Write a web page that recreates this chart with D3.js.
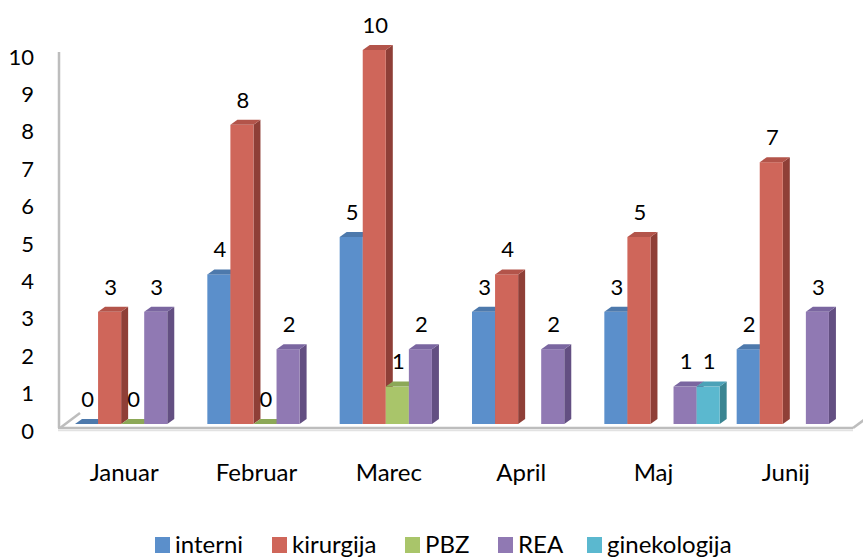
<html>
<head>
<script src="https://d3js.org/d3.v7.min.js"></script>
<style>
  body { margin: 0; background: #fff; }
  text { font-family: Lato, "Open Sans", sans-serif; fill: #000; }
</style>
</head>
<body>
<svg id="chart" width="863" height="558"></svg>
<script>
const months = ["Januar", "Februar", "Marec", "April", "Maj", "Junij"];
const series = ["interni", "kirurgija", "PBZ", "REA", "ginekologija"];
const interni = [0, 4, 5, 3, 3, 2];
const kirurgija = [3, 8, 10, 4, 5, 7];
const pbz = [0, 0, 1, null, null, null];
const rea = [3, 2, 2, 2, 1, 3];
const ginekologija = [null, null, null, null, 1, null];
const yTicks = [0, 1, 2, 3, 4, 5, 6, 7, 8, 9, 10];

const values = [interni, kirurgija, pbz, rea, ginekologija];
const front = ["#5B8FCB", "#CF665A", "#A9C56A", "#9079B3", "#5BB8CF"];
const side  = ["#3F6894", "#8F3F37", "#789240", "#634F82", "#3A8592"];
const top_  = ["#4D79AC", "#B3544A", "#8CA857", "#7A66A0", "#4CA2B8"];

const svg = d3.select("#chart");
const dx = 7, dy = -5;

const x0 = d3.scaleBand().domain(months).range([58, 852]);
const x1 = d3.scaleBand().domain(series).range([17, x0.bandwidth()]);
const y = d3.scaleLinear().domain([0, 10]).range([424, 50]);

// walls / floor
const wall = svg.append("g").attr("fill", "none").attr("stroke", "#BDBDBD").attr("stroke-width", 2.5);
wall.append("line").attr("x1", 59).attr("x2", 59).attr("y1", 52).attr("y2", 428);
wall.append("line").attr("x1", 58).attr("x2", 853).attr("y1", 428).attr("y2", 428);
wall.append("line").attr("x1", 60).attr("x2", 80).attr("y1", 428).attr("y2", 413);
wall.append("line").attr("x1", 853).attr("x2", 868).attr("y1", 428).attr("y2", 417);
svg.append("line").attr("x1", 58).attr("x2", 853).attr("y1", 430.5).attr("y2", 430.5)
  .attr("stroke", "#E2E2E2").attr("stroke-width", 1.5);

// y axis labels
const yAxis = d3.axisLeft(y).tickValues(yTicks).tickSize(0).tickPadding(0);
const ya = svg.append("g").attr("transform", "translate(34,7)").call(yAxis);
ya.select(".domain").remove();
ya.selectAll("text").attr("font-size", 22).attr("font-family", "Lato, sans-serif").attr("fill", "#000");

// bars
const bars = [];
series.forEach((s, si) => {
  months.forEach((m, mi) => {
    const v = values[si][mi];
    if (v === null) return;
    bars.push({ s, si, m, v });
  });
});

const g = svg.append("g");
bars.forEach(d => {
  const bx = x0(d.m) + x1(d.s);
  const w = x1.bandwidth();
  const yt = y(d.v), yb = y(0);
  const bg = g.append("g");
  if (d.v > 0) {
    bg.append("polygon")
      .attr("points", [[bx + w, yb], [bx + w + dx, yb + dy], [bx + w + dx, yt + dy], [bx + w, yt]].join(" "))
      .attr("fill", side[d.si]);
    bg.append("rect").attr("x", bx).attr("y", yt).attr("width", w).attr("height", yb - yt)
      .attr("fill", front[d.si]);
  }
  bg.append("polygon")
    .attr("points", [[bx, yt], [bx + dx, yt + dy], [bx + w + dx, yt + dy], [bx + w, yt]].join(" "))
    .attr("fill", top_[d.si]);
});

// value labels
svg.append("g").selectAll("text").data(bars).join("text")
  .attr("x", d => x0(d.m) + x1(d.s) + x1.bandwidth() / 2 + 1)
  .attr("y", d => y(d.v) - 25)
  .attr("dy", "0.35em")
  .attr("text-anchor", "middle")
  .attr("font-size", 22)
  .text(d => d.v);

// category labels
svg.append("g").selectAll("text").data(months).join("text")
  .attr("x", d => x0(d) + x0.bandwidth() / 2)
  .attr("y", 473)
  .attr("dy", "0.35em")
  .attr("text-anchor", "middle")
  .attr("font-size", 24)
  .text(d => d);

// legend
const legendX = [155, 272, 405, 498, 587];
const lg = svg.append("g").selectAll("g").data(series).join("g")
  .attr("transform", (d, i) => `translate(${legendX[i]},545)`);
lg.append("rect").attr("x", 0).attr("y", -8).attr("width", 15).attr("height", 16)
  .attr("fill", (d, i) => front[i]);
lg.append("text").attr("x", 20).attr("y", 0).attr("dy", "0.35em")
  .attr("font-size", 24).text(d => d);
</script>
</body>
</html>
